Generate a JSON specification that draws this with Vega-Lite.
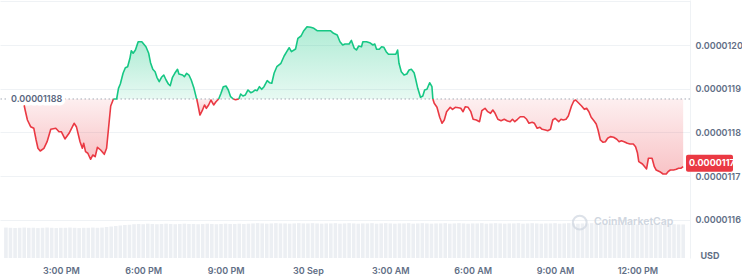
{
"$schema":"https://vega.github.io/schema/vega-lite/v6.json",
"width":690,"height":258,
"autosize":{"type":"none"},
"padding":{"left":0,"top":0,"right":52,"bottom":19},
"background":"#ffffff",
"config":{"view":{"stroke":null},"font":"Inter"},
"datasets":{
"price":[
{"t":"2024-09-29T13:37Z","p":0.0000118766,"s":"d","g":1},
{"t":"2024-09-29T13:42Z","p":0.0000118514,"s":"d","g":1},
{"t":"2024-09-29T13:47Z","p":0.0000118286,"s":"d","g":1},
{"t":"2024-09-29T13:54Z","p":0.0000118133,"s":"d","g":1},
{"t":"2024-09-29T14:01Z","p":0.0000118096,"s":"d","g":1},
{"t":"2024-09-29T14:06Z","p":0.0000117829,"s":"d","g":1},
{"t":"2024-09-29T14:10Z","p":0.0000117639,"s":"d","g":1},
{"t":"2024-09-29T14:15Z","p":0.0000117577,"s":"d","g":1},
{"t":"2024-09-29T14:23Z","p":0.0000117639,"s":"d","g":1},
{"t":"2024-09-29T14:30Z","p":0.0000117790,"s":"d","g":1},
{"t":"2024-09-29T14:38Z","p":0.0000118073,"s":"d","g":1},
{"t":"2024-09-29T14:49Z","p":0.0000118096,"s":"d","g":1},
{"t":"2024-09-29T14:56Z","p":0.0000118018,"s":"d","g":1},
{"t":"2024-09-29T15:01Z","p":0.0000118018,"s":"d","g":1},
{"t":"2024-09-29T15:09Z","p":0.0000117852,"s":"d","g":1},
{"t":"2024-09-29T15:18Z","p":0.0000117982,"s":"d","g":1},
{"t":"2024-09-29T15:29Z","p":0.0000118211,"s":"d","g":1},
{"t":"2024-09-29T15:34Z","p":0.0000118133,"s":"d","g":1},
{"t":"2024-09-29T15:42Z","p":0.0000117790,"s":"d","g":1},
{"t":"2024-09-29T15:47Z","p":0.0000117639,"s":"d","g":1},
{"t":"2024-09-29T15:50Z","p":0.0000117753,"s":"d","g":1},
{"t":"2024-09-29T15:54Z","p":0.0000117561,"s":"d","g":1},
{"t":"2024-09-29T15:59Z","p":0.0000117525,"s":"d","g":1},
{"t":"2024-09-29T16:05Z","p":0.0000117388,"s":"d","g":1},
{"t":"2024-09-29T16:10Z","p":0.0000117486,"s":"d","g":1},
{"t":"2024-09-29T16:15Z","p":0.0000117447,"s":"d","g":1},
{"t":"2024-09-29T16:20Z","p":0.0000117662,"s":"d","g":1},
{"t":"2024-09-29T16:27Z","p":0.0000117600,"s":"d","g":1},
{"t":"2024-09-29T16:35Z","p":0.0000117502,"s":"d","g":1},
{"t":"2024-09-29T16:40Z","p":0.0000117639,"s":"d","g":1},
{"t":"2024-09-29T16:46Z","p":0.0000118286,"s":"d","g":1},
{"t":"2024-09-29T16:49Z","p":0.0000118606,"s":"d","g":1},
{"t":"2024-09-29T16:55Z","p":0.0000118766,"s":"d","g":1},
{"t":"2024-09-29T16:55Z","p":0.0000118766,"s":"u","g":2},
{"t":"2024-09-29T17:02Z","p":0.0000118766,"s":"u","g":2},
{"t":"2024-09-29T17:06Z","p":0.0000119010,"s":"u","g":2},
{"t":"2024-09-29T17:10Z","p":0.0000119109,"s":"u","g":2},
{"t":"2024-09-29T17:16Z","p":0.0000119353,"s":"u","g":2},
{"t":"2024-09-29T17:21Z","p":0.0000119481,"s":"u","g":2},
{"t":"2024-09-29T17:26Z","p":0.0000119504,"s":"u","g":2},
{"t":"2024-09-29T17:31Z","p":0.0000119696,"s":"u","g":2},
{"t":"2024-09-29T17:34Z","p":0.0000119870,"s":"u","g":2},
{"t":"2024-09-29T17:38Z","p":0.0000119811,"s":"u","g":2},
{"t":"2024-09-29T17:43Z","p":0.0000119886,"s":"u","g":2},
{"t":"2024-09-29T17:49Z","p":0.0000120076,"s":"u","g":2},
{"t":"2024-09-29T17:57Z","p":0.0000120076,"s":"u","g":2},
{"t":"2024-09-29T18:06Z","p":0.0000119961,"s":"u","g":2},
{"t":"2024-09-29T18:12Z","p":0.0000119811,"s":"u","g":2},
{"t":"2024-09-29T18:16Z","p":0.0000119596,"s":"u","g":2},
{"t":"2024-09-29T18:21Z","p":0.0000119445,"s":"u","g":2},
{"t":"2024-09-29T18:26Z","p":0.0000119390,"s":"u","g":2},
{"t":"2024-09-29T18:30Z","p":0.0000119262,"s":"u","g":2},
{"t":"2024-09-29T18:35Z","p":0.0000119161,"s":"u","g":2},
{"t":"2024-09-29T18:40Z","p":0.0000119262,"s":"u","g":2},
{"t":"2024-09-29T18:45Z","p":0.0000119314,"s":"u","g":2},
{"t":"2024-09-29T18:50Z","p":0.0000119200,"s":"u","g":2},
{"t":"2024-09-29T18:55Z","p":0.0000119109,"s":"u","g":2},
{"t":"2024-09-29T18:59Z","p":0.0000119070,"s":"u","g":2},
{"t":"2024-09-29T19:04Z","p":0.0000119262,"s":"u","g":2},
{"t":"2024-09-29T19:09Z","p":0.0000119353,"s":"u","g":2},
{"t":"2024-09-29T19:15Z","p":0.0000119445,"s":"u","g":2},
{"t":"2024-09-29T19:18Z","p":0.0000119337,"s":"u","g":2},
{"t":"2024-09-29T19:26Z","p":0.0000119314,"s":"u","g":2},
{"t":"2024-09-29T19:30Z","p":0.0000119276,"s":"u","g":2},
{"t":"2024-09-29T19:35Z","p":0.0000119353,"s":"u","g":2},
{"t":"2024-09-29T19:40Z","p":0.0000119314,"s":"u","g":2},
{"t":"2024-09-29T19:45Z","p":0.0000119200,"s":"u","g":2},
{"t":"2024-09-29T19:51Z","p":0.0000119010,"s":"u","g":2},
{"t":"2024-09-29T19:56Z","p":0.0000118796,"s":"u","g":2},
{"t":"2024-09-29T19:57Z","p":0.0000118766,"s":"u","g":2},
{"t":"2024-09-29T19:57Z","p":0.0000118766,"s":"d","g":3},
{"t":"2024-09-29T19:59Z","p":0.0000118668,"s":"d","g":3},
{"t":"2024-09-29T20:04Z","p":0.0000118400,"s":"d","g":3},
{"t":"2024-09-29T20:09Z","p":0.0000118498,"s":"d","g":3},
{"t":"2024-09-29T20:14Z","p":0.0000118629,"s":"d","g":3},
{"t":"2024-09-29T20:18Z","p":0.0000118553,"s":"d","g":3},
{"t":"2024-09-29T20:23Z","p":0.0000118629,"s":"d","g":3},
{"t":"2024-09-29T20:28Z","p":0.0000118743,"s":"d","g":3},
{"t":"2024-09-29T20:34Z","p":0.0000118629,"s":"d","g":3},
{"t":"2024-09-29T20:39Z","p":0.0000118704,"s":"d","g":3},
{"t":"2024-09-29T20:45Z","p":0.0000118766,"s":"d","g":3},
{"t":"2024-09-29T20:45Z","p":0.0000118766,"s":"u","g":4},
{"t":"2024-09-29T20:50Z","p":0.0000118896,"s":"u","g":4},
{"t":"2024-09-29T20:55Z","p":0.0000119047,"s":"u","g":4},
{"t":"2024-09-29T21:01Z","p":0.0000119063,"s":"u","g":4},
{"t":"2024-09-29T21:06Z","p":0.0000118972,"s":"u","g":4},
{"t":"2024-09-29T21:11Z","p":0.0000118818,"s":"u","g":4},
{"t":"2024-09-29T21:17Z","p":0.0000118766,"s":"u","g":4},
{"t":"2024-09-29T21:17Z","p":0.0000118766,"s":"d","g":5},
{"t":"2024-09-29T21:22Z","p":0.0000118750,"s":"d","g":5},
{"t":"2024-09-29T21:29Z","p":0.0000118766,"s":"d","g":5},
{"t":"2024-09-29T21:29Z","p":0.0000118766,"s":"u","g":6},
{"t":"2024-09-29T21:33Z","p":0.0000118880,"s":"u","g":6},
{"t":"2024-09-29T21:38Z","p":0.0000118834,"s":"u","g":6},
{"t":"2024-09-29T21:43Z","p":0.0000118857,"s":"u","g":6},
{"t":"2024-09-29T21:49Z","p":0.0000118972,"s":"u","g":6},
{"t":"2024-09-29T21:55Z","p":0.0000118910,"s":"u","g":6},
{"t":"2024-09-29T22:00Z","p":0.0000118933,"s":"u","g":6},
{"t":"2024-09-29T22:05Z","p":0.0000118972,"s":"u","g":6},
{"t":"2024-09-29T22:09Z","p":0.0000118956,"s":"u","g":6},
{"t":"2024-09-29T22:14Z","p":0.0000119047,"s":"u","g":6},
{"t":"2024-09-29T22:19Z","p":0.0000118988,"s":"u","g":6},
{"t":"2024-09-29T22:24Z","p":0.0000119047,"s":"u","g":6},
{"t":"2024-09-29T22:31Z","p":0.0000119184,"s":"u","g":6},
{"t":"2024-09-29T22:36Z","p":0.0000119138,"s":"u","g":6},
{"t":"2024-09-29T22:41Z","p":0.0000119125,"s":"u","g":6},
{"t":"2024-09-29T22:46Z","p":0.0000119353,"s":"u","g":6},
{"t":"2024-09-29T22:52Z","p":0.0000119504,"s":"u","g":6},
{"t":"2024-09-29T23:01Z","p":0.0000119582,"s":"u","g":6},
{"t":"2024-09-29T23:08Z","p":0.0000119749,"s":"u","g":6},
{"t":"2024-09-29T23:15Z","p":0.0000119870,"s":"u","g":6},
{"t":"2024-09-29T23:19Z","p":0.0000119938,"s":"u","g":6},
{"t":"2024-09-29T23:24Z","p":0.0000119847,"s":"u","g":6},
{"t":"2024-09-29T23:33Z","p":0.0000119909,"s":"u","g":6},
{"t":"2024-09-29T23:38Z","p":0.0000120153,"s":"u","g":6},
{"t":"2024-09-29T23:45Z","p":0.0000120206,"s":"u","g":6},
{"t":"2024-09-29T23:51Z","p":0.0000120327,"s":"u","g":6},
{"t":"2024-09-29T23:58Z","p":0.0000120419,"s":"u","g":6},
{"t":"2024-09-30T00:06Z","p":0.0000120405,"s":"u","g":6},
{"t":"2024-09-30T00:13Z","p":0.0000120382,"s":"u","g":6},
{"t":"2024-09-30T00:20Z","p":0.0000120327,"s":"u","g":6},
{"t":"2024-09-30T00:34Z","p":0.0000120327,"s":"u","g":6},
{"t":"2024-09-30T00:49Z","p":0.0000120327,"s":"u","g":6},
{"t":"2024-09-30T00:56Z","p":0.0000120267,"s":"u","g":6},
{"t":"2024-09-30T01:04Z","p":0.0000120229,"s":"u","g":6},
{"t":"2024-09-30T01:10Z","p":0.0000120076,"s":"u","g":6},
{"t":"2024-09-30T01:16Z","p":0.0000120000,"s":"u","g":6},
{"t":"2024-09-30T01:21Z","p":0.0000120023,"s":"u","g":6},
{"t":"2024-09-30T01:30Z","p":0.0000120023,"s":"u","g":6},
{"t":"2024-09-30T01:35Z","p":0.0000120105,"s":"u","g":6},
{"t":"2024-09-30T01:41Z","p":0.0000119931,"s":"u","g":6},
{"t":"2024-09-30T01:46Z","p":0.0000119886,"s":"u","g":6},
{"t":"2024-09-30T01:51Z","p":0.0000119977,"s":"u","g":6},
{"t":"2024-09-30T01:57Z","p":0.0000119961,"s":"u","g":6},
{"t":"2024-09-30T02:00Z","p":0.0000120076,"s":"u","g":6},
{"t":"2024-09-30T02:08Z","p":0.0000120076,"s":"u","g":6},
{"t":"2024-09-30T02:15Z","p":0.0000120053,"s":"u","g":6},
{"t":"2024-09-30T02:22Z","p":0.0000120000,"s":"u","g":6},
{"t":"2024-09-30T02:26Z","p":0.0000120023,"s":"u","g":6},
{"t":"2024-09-30T02:30Z","p":0.0000119902,"s":"u","g":6},
{"t":"2024-09-30T02:36Z","p":0.0000119902,"s":"u","g":6},
{"t":"2024-09-30T02:41Z","p":0.0000119961,"s":"u","g":6},
{"t":"2024-09-30T02:46Z","p":0.0000119947,"s":"u","g":6},
{"t":"2024-09-30T02:51Z","p":0.0000119847,"s":"u","g":6},
{"t":"2024-09-30T02:56Z","p":0.0000119788,"s":"u","g":6},
{"t":"2024-09-30T03:12Z","p":0.0000119788,"s":"u","g":6},
{"t":"2024-09-30T03:16Z","p":0.0000119886,"s":"u","g":6},
{"t":"2024-09-30T03:19Z","p":0.0000119582,"s":"u","g":6},
{"t":"2024-09-30T03:24Z","p":0.0000119390,"s":"u","g":6},
{"t":"2024-09-30T03:30Z","p":0.0000119314,"s":"u","g":6},
{"t":"2024-09-30T03:36Z","p":0.0000119337,"s":"u","g":6},
{"t":"2024-09-30T03:41Z","p":0.0000119429,"s":"u","g":6},
{"t":"2024-09-30T03:46Z","p":0.0000119445,"s":"u","g":6},
{"t":"2024-09-30T03:52Z","p":0.0000119367,"s":"u","g":6},
{"t":"2024-09-30T03:55Z","p":0.0000119239,"s":"u","g":6},
{"t":"2024-09-30T04:00Z","p":0.0000119010,"s":"u","g":6},
{"t":"2024-09-30T04:06Z","p":0.0000118805,"s":"u","g":6},
{"t":"2024-09-30T04:11Z","p":0.0000118834,"s":"u","g":6},
{"t":"2024-09-30T04:15Z","p":0.0000118972,"s":"u","g":6},
{"t":"2024-09-30T04:20Z","p":0.0000118988,"s":"u","g":6},
{"t":"2024-09-30T04:26Z","p":0.0000119138,"s":"u","g":6},
{"t":"2024-09-30T04:31Z","p":0.0000119047,"s":"u","g":6},
{"t":"2024-09-30T04:33Z","p":0.0000118766,"s":"u","g":6},
{"t":"2024-09-30T04:33Z","p":0.0000118766,"s":"d","g":7},
{"t":"2024-09-30T04:36Z","p":0.0000118668,"s":"d","g":7},
{"t":"2024-09-30T04:42Z","p":0.0000118576,"s":"d","g":7},
{"t":"2024-09-30T04:48Z","p":0.0000118348,"s":"d","g":7},
{"t":"2024-09-30T04:53Z","p":0.0000118211,"s":"d","g":7},
{"t":"2024-09-30T04:58Z","p":0.0000118286,"s":"d","g":7},
{"t":"2024-09-30T05:03Z","p":0.0000118476,"s":"d","g":7},
{"t":"2024-09-30T05:11Z","p":0.0000118576,"s":"d","g":7},
{"t":"2024-09-30T05:16Z","p":0.0000118530,"s":"d","g":7},
{"t":"2024-09-30T05:22Z","p":0.0000118576,"s":"d","g":7},
{"t":"2024-09-30T05:29Z","p":0.0000118565,"s":"d","g":7},
{"t":"2024-09-30T05:34Z","p":0.0000118553,"s":"d","g":7},
{"t":"2024-09-30T05:39Z","p":0.0000118476,"s":"d","g":7},
{"t":"2024-09-30T05:44Z","p":0.0000118590,"s":"d","g":7},
{"t":"2024-09-30T05:50Z","p":0.0000118576,"s":"d","g":7},
{"t":"2024-09-30T05:56Z","p":0.0000118476,"s":"d","g":7},
{"t":"2024-09-30T06:01Z","p":0.0000118302,"s":"d","g":7},
{"t":"2024-09-30T06:08Z","p":0.0000118286,"s":"d","g":7},
{"t":"2024-09-30T06:15Z","p":0.0000118247,"s":"d","g":7},
{"t":"2024-09-30T06:20Z","p":0.0000118498,"s":"d","g":7},
{"t":"2024-09-30T06:27Z","p":0.0000118553,"s":"d","g":7},
{"t":"2024-09-30T06:33Z","p":0.0000118476,"s":"d","g":7},
{"t":"2024-09-30T06:39Z","p":0.0000118439,"s":"d","g":7},
{"t":"2024-09-30T06:44Z","p":0.0000118514,"s":"d","g":7},
{"t":"2024-09-30T06:49Z","p":0.0000118439,"s":"d","g":7},
{"t":"2024-09-30T06:55Z","p":0.0000118302,"s":"d","g":7},
{"t":"2024-09-30T07:02Z","p":0.0000118270,"s":"d","g":7},
{"t":"2024-09-30T07:09Z","p":0.0000118302,"s":"d","g":7},
{"t":"2024-09-30T07:16Z","p":0.0000118263,"s":"d","g":7},
{"t":"2024-09-30T07:22Z","p":0.0000118247,"s":"d","g":7},
{"t":"2024-09-30T07:27Z","p":0.0000118302,"s":"d","g":7},
{"t":"2024-09-30T07:32Z","p":0.0000118247,"s":"d","g":7},
{"t":"2024-09-30T07:38Z","p":0.0000118302,"s":"d","g":7},
{"t":"2024-09-30T07:44Z","p":0.0000118361,"s":"d","g":7},
{"t":"2024-09-30T07:52Z","p":0.0000118361,"s":"d","g":7},
{"t":"2024-09-30T07:58Z","p":0.0000118302,"s":"d","g":7},
{"t":"2024-09-30T08:03Z","p":0.0000118211,"s":"d","g":7},
{"t":"2024-09-30T08:10Z","p":0.0000118233,"s":"d","g":7},
{"t":"2024-09-30T08:15Z","p":0.0000118211,"s":"d","g":7},
{"t":"2024-09-30T08:21Z","p":0.0000118096,"s":"d","g":7},
{"t":"2024-09-30T08:27Z","p":0.0000118119,"s":"d","g":7},
{"t":"2024-09-30T08:32Z","p":0.0000118073,"s":"d","g":7},
{"t":"2024-09-30T08:39Z","p":0.0000118057,"s":"d","g":7},
{"t":"2024-09-30T08:44Z","p":0.0000118041,"s":"d","g":7},
{"t":"2024-09-30T08:50Z","p":0.0000118073,"s":"d","g":7},
{"t":"2024-09-30T08:55Z","p":0.0000118286,"s":"d","g":7},
{"t":"2024-09-30T09:00Z","p":0.0000118325,"s":"d","g":7},
{"t":"2024-09-30T09:08Z","p":0.0000118247,"s":"d","g":7},
{"t":"2024-09-30T09:13Z","p":0.0000118302,"s":"d","g":7},
{"t":"2024-09-30T09:18Z","p":0.0000118286,"s":"d","g":7},
{"t":"2024-09-30T09:24Z","p":0.0000118302,"s":"d","g":7},
{"t":"2024-09-30T09:29Z","p":0.0000118377,"s":"d","g":7},
{"t":"2024-09-30T09:36Z","p":0.0000118606,"s":"d","g":7},
{"t":"2024-09-30T09:41Z","p":0.0000118720,"s":"d","g":7},
{"t":"2024-09-30T09:45Z","p":0.0000118743,"s":"d","g":7},
{"t":"2024-09-30T09:51Z","p":0.0000118681,"s":"d","g":7},
{"t":"2024-09-30T09:58Z","p":0.0000118606,"s":"d","g":7},
{"t":"2024-09-30T10:04Z","p":0.0000118530,"s":"d","g":7},
{"t":"2024-09-30T10:09Z","p":0.0000118553,"s":"d","g":7},
{"t":"2024-09-30T10:14Z","p":0.0000118476,"s":"d","g":7},
{"t":"2024-09-30T10:19Z","p":0.0000118348,"s":"d","g":7},
{"t":"2024-09-30T10:25Z","p":0.0000118270,"s":"d","g":7},
{"t":"2024-09-30T10:30Z","p":0.0000118194,"s":"d","g":7},
{"t":"2024-09-30T10:34Z","p":0.0000118057,"s":"d","g":7},
{"t":"2024-09-30T10:39Z","p":0.0000117829,"s":"d","g":7},
{"t":"2024-09-30T10:45Z","p":0.0000117776,"s":"d","g":7},
{"t":"2024-09-30T10:50Z","p":0.0000117790,"s":"d","g":7},
{"t":"2024-09-30T10:55Z","p":0.0000117868,"s":"d","g":7},
{"t":"2024-09-30T11:01Z","p":0.0000117905,"s":"d","g":7},
{"t":"2024-09-30T11:08Z","p":0.0000117891,"s":"d","g":7},
{"t":"2024-09-30T11:15Z","p":0.0000117845,"s":"d","g":7},
{"t":"2024-09-30T11:20Z","p":0.0000117790,"s":"d","g":7},
{"t":"2024-09-30T11:25Z","p":0.0000117810,"s":"d","g":7},
{"t":"2024-09-30T11:31Z","p":0.0000117790,"s":"d","g":7},
{"t":"2024-09-30T11:38Z","p":0.0000117753,"s":"d","g":7},
{"t":"2024-09-30T11:44Z","p":0.0000117737,"s":"d","g":7},
{"t":"2024-09-30T11:51Z","p":0.0000117737,"s":"d","g":7},
{"t":"2024-09-30T11:56Z","p":0.0000117675,"s":"d","g":7},
{"t":"2024-09-30T12:00Z","p":0.0000117538,"s":"d","g":7},
{"t":"2024-09-30T12:03Z","p":0.0000117333,"s":"d","g":7},
{"t":"2024-09-30T12:11Z","p":0.0000117280,"s":"d","g":7},
{"t":"2024-09-30T12:16Z","p":0.0000117218,"s":"d","g":7},
{"t":"2024-09-30T12:20Z","p":0.0000117166,"s":"d","g":7},
{"t":"2024-09-30T12:24Z","p":0.0000117410,"s":"d","g":7},
{"t":"2024-09-30T12:32Z","p":0.0000117410,"s":"d","g":7},
{"t":"2024-09-30T12:37Z","p":0.0000117218,"s":"d","g":7},
{"t":"2024-09-30T12:41Z","p":0.0000117143,"s":"d","g":7},
{"t":"2024-09-30T12:49Z","p":0.0000117104,"s":"d","g":7},
{"t":"2024-09-30T12:56Z","p":0.0000117051,"s":"d","g":7},
{"t":"2024-09-30T13:03Z","p":0.0000117051,"s":"d","g":7},
{"t":"2024-09-30T13:07Z","p":0.0000117104,"s":"d","g":7},
{"t":"2024-09-30T13:12Z","p":0.0000117143,"s":"d","g":7},
{"t":"2024-09-30T13:19Z","p":0.0000117143,"s":"d","g":7},
{"t":"2024-09-30T13:25Z","p":0.0000117159,"s":"d","g":7},
{"t":"2024-09-30T13:30Z","p":0.0000117182,"s":"d","g":7},
{"t":"2024-09-30T13:35Z","p":0.0000117182,"s":"d","g":7},
{"t":"2024-09-30T13:40Z","p":0.0000117218,"s":"d","g":7}
],
"vol":[
{"t":"2024-09-29T13:00Z","v":11.8},{"t":"2024-09-29T13:10Z","v":11.7},{"t":"2024-09-29T13:20Z","v":11.6},{"t":"2024-09-29T13:30Z","v":11.7},{"t":"2024-09-29T13:40Z","v":11.8},{"t":"2024-09-29T13:50Z","v":11.7},
{"t":"2024-09-29T14:00Z","v":11.7},{"t":"2024-09-29T14:10Z","v":11.6},{"t":"2024-09-29T14:20Z","v":11.7},{"t":"2024-09-29T14:30Z","v":11.8},{"t":"2024-09-29T14:40Z","v":11.7},{"t":"2024-09-29T14:50Z","v":11.6},
{"t":"2024-09-29T15:00Z","v":11.7},{"t":"2024-09-29T15:10Z","v":11.7},{"t":"2024-09-29T15:20Z","v":11.8},{"t":"2024-09-29T15:30Z","v":11.7},{"t":"2024-09-29T15:40Z","v":11.6},{"t":"2024-09-29T15:50Z","v":11.7},
{"t":"2024-09-29T16:00Z","v":11.7},{"t":"2024-09-29T16:10Z","v":11.8},{"t":"2024-09-29T16:20Z","v":11.7},{"t":"2024-09-29T16:30Z","v":11.8},{"t":"2024-09-29T16:40Z","v":12.0},{"t":"2024-09-29T16:50Z","v":12.2},
{"t":"2024-09-29T17:00Z","v":12.4},{"t":"2024-09-29T17:10Z","v":12.6},{"t":"2024-09-29T17:20Z","v":12.8},{"t":"2024-09-29T17:30Z","v":12.9},{"t":"2024-09-29T17:40Z","v":13.1},{"t":"2024-09-29T17:50Z","v":13.2},
{"t":"2024-09-29T18:00Z","v":13.1},{"t":"2024-09-29T18:10Z","v":13.3},{"t":"2024-09-29T18:20Z","v":13.2},{"t":"2024-09-29T18:30Z","v":13.1},{"t":"2024-09-29T18:40Z","v":13.2},{"t":"2024-09-29T18:50Z","v":13.3},
{"t":"2024-09-29T19:00Z","v":13.2},{"t":"2024-09-29T19:10Z","v":13.1},{"t":"2024-09-29T19:20Z","v":13.2},{"t":"2024-09-29T19:30Z","v":13.3},{"t":"2024-09-29T19:40Z","v":13.2},{"t":"2024-09-29T19:50Z","v":13.2},
{"t":"2024-09-29T20:00Z","v":13.1},{"t":"2024-09-29T20:10Z","v":13.2},{"t":"2024-09-29T20:20Z","v":13.3},{"t":"2024-09-29T20:30Z","v":13.2},{"t":"2024-09-29T20:40Z","v":13.1},{"t":"2024-09-29T20:50Z","v":13.2},
{"t":"2024-09-29T21:00Z","v":13.3},{"t":"2024-09-29T21:10Z","v":13.2},{"t":"2024-09-29T21:20Z","v":13.2},{"t":"2024-09-29T21:30Z","v":13.3},{"t":"2024-09-29T21:40Z","v":13.2},{"t":"2024-09-29T21:50Z","v":13.3},
{"t":"2024-09-29T22:00Z","v":13.4},{"t":"2024-09-29T22:10Z","v":13.5},{"t":"2024-09-29T22:20Z","v":13.4},{"t":"2024-09-29T22:30Z","v":13.3},{"t":"2024-09-29T22:40Z","v":13.4},{"t":"2024-09-29T22:50Z","v":13.5},
{"t":"2024-09-29T23:00Z","v":13.4},{"t":"2024-09-29T23:10Z","v":13.4},{"t":"2024-09-29T23:20Z","v":13.3},{"t":"2024-09-29T23:30Z","v":13.4},{"t":"2024-09-29T23:40Z","v":13.5},{"t":"2024-09-29T23:50Z","v":13.4},
{"t":"2024-09-30T00:00Z","v":13.4},{"t":"2024-09-30T00:10Z","v":13.5},{"t":"2024-09-30T00:20Z","v":13.4},{"t":"2024-09-30T00:30Z","v":13.3},{"t":"2024-09-30T00:40Z","v":13.4},{"t":"2024-09-30T00:50Z","v":13.4},
{"t":"2024-09-30T01:00Z","v":13.5},{"t":"2024-09-30T01:10Z","v":13.3},{"t":"2024-09-30T01:20Z","v":13.4},{"t":"2024-09-30T01:30Z","v":13.5},{"t":"2024-09-30T01:40Z","v":13.4},{"t":"2024-09-30T01:50Z","v":13.3},
{"t":"2024-09-30T02:00Z","v":13.4},{"t":"2024-09-30T02:10Z","v":13.4},{"t":"2024-09-30T02:20Z","v":13.5},{"t":"2024-09-30T02:30Z","v":13.3},{"t":"2024-09-30T02:40Z","v":13.4},{"t":"2024-09-30T02:50Z","v":13.5},
{"t":"2024-09-30T03:00Z","v":13.4},{"t":"2024-09-30T03:10Z","v":13.3},{"t":"2024-09-30T03:20Z","v":13.4},{"t":"2024-09-30T03:30Z","v":13.4},{"t":"2024-09-30T03:40Z","v":13.5},{"t":"2024-09-30T03:50Z","v":13.3},
{"t":"2024-09-30T04:00Z","v":13.4},{"t":"2024-09-30T04:10Z","v":13.5},{"t":"2024-09-30T04:20Z","v":13.4},{"t":"2024-09-30T04:30Z","v":13.3},{"t":"2024-09-30T04:40Z","v":13.4},{"t":"2024-09-30T04:50Z","v":13.4},
{"t":"2024-09-30T05:00Z","v":13.5},{"t":"2024-09-30T05:10Z","v":13.3},{"t":"2024-09-30T05:20Z","v":13.4},{"t":"2024-09-30T05:30Z","v":13.5},{"t":"2024-09-30T05:40Z","v":13.4},{"t":"2024-09-30T05:50Z","v":13.3},
{"t":"2024-09-30T06:00Z","v":13.4},{"t":"2024-09-30T06:10Z","v":13.4},{"t":"2024-09-30T06:20Z","v":13.5},{"t":"2024-09-30T06:30Z","v":13.3},{"t":"2024-09-30T06:40Z","v":13.4},{"t":"2024-09-30T06:50Z","v":13.5},
{"t":"2024-09-30T07:00Z","v":13.4},{"t":"2024-09-30T07:10Z","v":13.3},{"t":"2024-09-30T07:20Z","v":13.4},{"t":"2024-09-30T07:30Z","v":13.4},{"t":"2024-09-30T07:40Z","v":13.5},{"t":"2024-09-30T07:50Z","v":13.3},
{"t":"2024-09-30T08:00Z","v":13.4},{"t":"2024-09-30T08:10Z","v":13.5},{"t":"2024-09-30T08:20Z","v":13.4},{"t":"2024-09-30T08:30Z","v":13.3},{"t":"2024-09-30T08:40Z","v":13.4},{"t":"2024-09-30T08:50Z","v":13.4},
{"t":"2024-09-30T09:00Z","v":13.5},{"t":"2024-09-30T09:10Z","v":13.3},{"t":"2024-09-30T09:20Z","v":13.4},{"t":"2024-09-30T09:30Z","v":13.5},{"t":"2024-09-30T09:40Z","v":13.4},{"t":"2024-09-30T09:50Z","v":13.3},
{"t":"2024-09-30T10:00Z","v":13.4},{"t":"2024-09-30T10:10Z","v":13.4},{"t":"2024-09-30T10:20Z","v":13.5},{"t":"2024-09-30T10:30Z","v":13.3},{"t":"2024-09-30T10:40Z","v":13.4},{"t":"2024-09-30T10:50Z","v":13.3},
{"t":"2024-09-30T11:00Z","v":13.3},{"t":"2024-09-30T11:10Z","v":13.2},{"t":"2024-09-30T11:20Z","v":13.1},{"t":"2024-09-30T11:30Z","v":13.0},{"t":"2024-09-30T11:40Z","v":13.1},{"t":"2024-09-30T11:50Z","v":13.0},
{"t":"2024-09-30T12:00Z","v":13.0},{"t":"2024-09-30T12:10Z","v":13.1},{"t":"2024-09-30T12:20Z","v":13.0},{"t":"2024-09-30T12:30Z","v":13.1},{"t":"2024-09-30T12:40Z","v":13.0},{"t":"2024-09-30T12:50Z","v":13.0},
{"t":"2024-09-30T13:00Z","v":13.1},{"t":"2024-09-30T13:10Z","v":13.0},{"t":"2024-09-30T13:20Z","v":13.1},{"t":"2024-09-30T13:30Z","v":13.0},{"t":"2024-09-30T13:40Z","v":13.0}
],
"ref":[{"p":0.0000118766}],
"last":[{"t":"2024-09-30T13:40Z","p":0.0000117218}],
"mark":[{"t":"2024-09-30T11:52Z","p":0.0000115954,"label":"CoinMarketCap"}],
"logo":[{"t":"2024-09-30T09:54Z","p":0.0000115940}]
},
"layer":[
{"data":{"name":"vol"},
 "mark":{"type":"bar","color":"#eceff3","width":3.6},
 "encoding":{
  "x":{"field":"t","type":"temporal","title":null,
   "scale":{"type":"utc","domain":[{"year":2024,"month":9,"date":29,"hours":12,"minutes":58,"utc":true},{"year":2024,"month":9,"date":30,"hours":13,"minutes":44,"utc":true}]},
   "axis":{"values":[{"year":2024,"month":9,"date":29,"hours":15,"utc":true},{"year":2024,"month":9,"date":29,"hours":18,"utc":true},{"year":2024,"month":9,"date":29,"hours":21,"utc":true},{"year":2024,"month":9,"date":30,"hours":0,"utc":true},{"year":2024,"month":9,"date":30,"hours":3,"utc":true},{"year":2024,"month":9,"date":30,"hours":6,"utc":true},{"year":2024,"month":9,"date":30,"hours":9,"utc":true},{"year":2024,"month":9,"date":30,"hours":12,"utc":true}],
    "labelExpr":"utcFormat(datum.value, '%H') == '00' ? utcFormat(datum.value, '%-d %b') : utcFormat(datum.value, '%-I:%M %p')",
    "domain":false,"ticks":false,"grid":false,"labelFont":"Inter","labelFontSize":9,"labelFontWeight":600,"labelColor":"#616e85","labelPadding":8,"labelFlush":false}},
  "y":{"field":"v","type":"quantitative","scale":{"domain":[0,100]},"axis":null}}},
{"layer":[
 {"data":{"name":"price"},"transform":[{"filter":"datum.s == 'u'"}],
  "mark":{"type":"area","fill":{"gradient":"linear","x1":1,"y1":0,"x2":1,"y2":1,"stops":[{"offset":0,"color":"rgba(22,199,132,0.34)"},{"offset":1,"color":"rgba(22,199,132,0.1)"}]}},
  "encoding":{
   "x":{"field":"t","type":"temporal","title":null},
   "y":{"field":"p","type":"quantitative","title":"USD","scale":{"domain":[0.0000115131,0.0000121029],"zero":false,"nice":false},
    "axis":{"orient":"right","values":[0.0000116,0.0000117,0.0000118,0.0000119,0.000012,0.0000121],"format":".7f",
     "labelExpr":"datum.value > 0.00001205 ? '' : datum.label",
     "grid":true,"gridColor":"#eff2f5","gridWidth":1,"domain":true,"domainColor":"#eff2f5","ticks":false,
     "labelFont":"Inter","labelFontSize":9,"labelFontWeight":600,"labelColor":"#616e85","labelPadding":5,
     "titleAngle":0,"titleAlign":"left","titleBaseline":"middle","titleX":10,"titleY":255,"titleFont":"Inter","titleFontSize":9,"titleFontWeight":700,"titleColor":"#616e85"}},
   "y2":{"datum":0.0000118766},
   "detail":{"field":"g","type":"nominal"}}},
 {"data":{"name":"price"},"transform":[{"filter":"datum.s == 'd'"}],
  "mark":{"type":"area","fill":{"gradient":"linear","x1":1,"y1":0,"x2":1,"y2":1,"stops":[{"offset":0,"color":"rgba(234,57,67,0.08)"},{"offset":1,"color":"rgba(234,57,67,0.3)"}]}},
  "encoding":{
   "x":{"field":"t","type":"temporal","title":null},
   "y":{"field":"p","type":"quantitative","title":"USD"},
   "y2":{"datum":0.0000118766},
   "detail":{"field":"g","type":"nominal"}}},
 {"data":{"name":"ref"},
  "mark":{"type":"rule","color":"#a3aab5","strokeWidth":1,"strokeDash":[1.5,2.5]},
  "encoding":{"y":{"field":"p","type":"quantitative","title":"USD"}}},
 {"data":{"name":"price"},
  "mark":{"type":"line","strokeWidth":1.6,"strokeJoin":"round"},
  "encoding":{
   "x":{"field":"t","type":"temporal","title":null},
   "y":{"field":"p","type":"quantitative","title":"USD"},
   "color":{"field":"s","type":"nominal","scale":{"domain":["u","d"],"range":["#16c784","#ea3943"]},"legend":null},
   "detail":{"field":"g","type":"nominal"}}},
 {"data":{"name":"ref"},
  "mark":{"type":"text","align":"left","baseline":"middle","dx":6,"font":"Inter","fontSize":9,"fontWeight":600,"stroke":"#ffffff","strokeWidth":7,"strokeJoin":"round","fill":"#ffffff"},
  "encoding":{
   "x":{"datum":{"year":2024,"month":9,"date":29,"hours":12,"minutes":58,"utc":true},"type":"temporal","title":null},
   "y":{"field":"p","type":"quantitative","title":"USD"},
   "text":{"field":"p","type":"quantitative","format":".8f"}}},
 {"data":{"name":"ref"},
  "mark":{"type":"text","align":"left","baseline":"middle","dx":6,"font":"Inter","fontSize":9,"fontWeight":600,"fill":"#58667e"},
  "encoding":{
   "x":{"datum":{"year":2024,"month":9,"date":29,"hours":12,"minutes":58,"utc":true},"type":"temporal","title":null},
   "y":{"field":"p","type":"quantitative","title":"USD"},
   "text":{"field":"p","type":"quantitative","format":".8f"}}},
 {"data":{"name":"logo"},
  "mark":{"type":"point","shape":"circle","filled":false,"size":190,"strokeWidth":2,"color":"#cfd6e0"},
  "encoding":{
   "x":{"field":"t","type":"temporal","title":null},
   "y":{"field":"p","type":"quantitative","title":"USD"}}},
 {"data":{"name":"mark"},
  "mark":{"type":"text","align":"center","baseline":"middle","font":"Inter","fontSize":10.5,"fontWeight":600,"fill":"#cfd6e0"},
  "encoding":{
   "x":{"field":"t","type":"temporal","title":null},
   "y":{"field":"p","type":"quantitative","title":"USD"},
   "text":{"field":"label","type":"nominal"}}},
 {"data":{"name":"last"},
  "mark":{"type":"rect","color":"#ea3943","xOffset":1,"x2Offset":48,"yOffset":-12,"y2Offset":5,"cornerRadius":2},
  "encoding":{
   "x":{"datum":{"year":2024,"month":9,"date":30,"hours":13,"minutes":44,"utc":true},"type":"temporal","title":null},
   "x2":{"datum":{"year":2024,"month":9,"date":30,"hours":13,"minutes":44,"utc":true}},
   "y":{"field":"p","type":"quantitative","title":"USD"},
   "y2":{"field":"p"}}},
 {"data":{"name":"last"},
  "mark":{"type":"text","align":"left","baseline":"middle","dx":4,"dy":-3.5,"font":"Inter","fontSize":9,"fontWeight":700,"fill":"#ffffff"},
  "encoding":{
   "x":{"datum":{"year":2024,"month":9,"date":30,"hours":13,"minutes":44,"utc":true},"type":"temporal","title":null},
   "y":{"field":"p","type":"quantitative","title":"USD"},
   "text":{"field":"p","type":"quantitative","format":".7f"}}}
]}
],
"resolve":{"scale":{"y":"independent"}}
}
